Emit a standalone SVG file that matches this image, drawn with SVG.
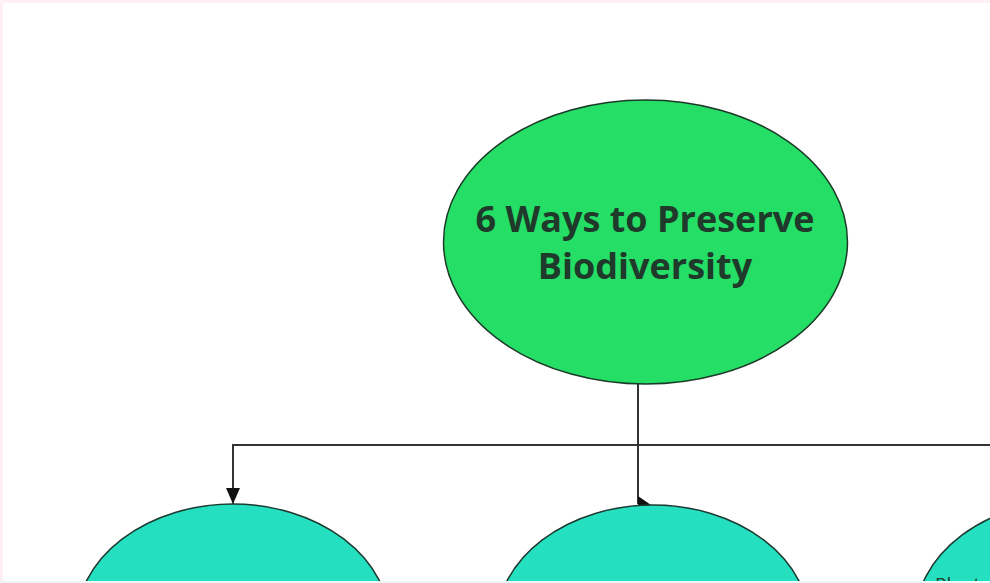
<svg xmlns="http://www.w3.org/2000/svg" width="990" height="583" viewBox="0 0 990 583">
<style>
.edge{fill:none;stroke:#333;stroke-width:2}
.root{fill:#24de66;stroke:#1c3a28;stroke-width:1.5}
.child{fill:#24dfc0;stroke:#1c3a30;stroke-width:1.5}
.title{font-family:"Open Sans","Liberation Sans",sans-serif;font-weight:700;font-size:36px;fill:#1f3a2b;text-anchor:middle}
.label{font-family:"Open Sans","Liberation Sans",sans-serif;font-size:19px;fill:#1f3a30}
</style>
<defs>
<marker id="arrow" viewBox="0 0 14 16" refX="16" refY="7" markerWidth="14" markerHeight="16" markerUnits="userSpaceOnUse" orient="auto">
<path d="M0,0 L16,7 L0,14 Z" fill="#111"/>
</marker>
</defs>
<rect x="0" y="0" width="990" height="583" fill="#fff"/>
<rect x="0" y="0" width="990" height="3" fill="#fff0f3"/>
<rect x="0" y="0" width="3" height="583" fill="#fff0f3"/>
<g id="connectors">
<path class="edge" d="M638,384 V445"/>
<path class="edge" d="M638,445 H233 V504" marker-end="url(#arrow)"/>
<path class="edge" d="M638,445 V504"/>
<path class="edge" d="M638,445 H1075 V500"/>
<path d="M638,496 L638,505 L651,505 Z" fill="#111"/>
</g>
<g id="root">
<ellipse class="root" cx="645.5" cy="242" rx="202" ry="142"/>
<text class="title" x="645" y="232">6 Ways to Preserve</text>
<text class="title" x="645" y="279">Biodiversity</text>
</g>
<g id="node-left">
<ellipse class="child" cx="233" cy="624" rx="157" ry="120"/>
</g>
<g id="node-middle">
<ellipse class="child" cx="653" cy="625" rx="157" ry="120"/>
</g>
<g id="node-right">
<ellipse class="child" cx="1075" cy="620" rx="160" ry="120"/>
<text class="label" x="935" y="591">Plant</text>
</g>
<rect x="0" y="581" width="990" height="2" fill="#eef5f7"/>
</svg>
